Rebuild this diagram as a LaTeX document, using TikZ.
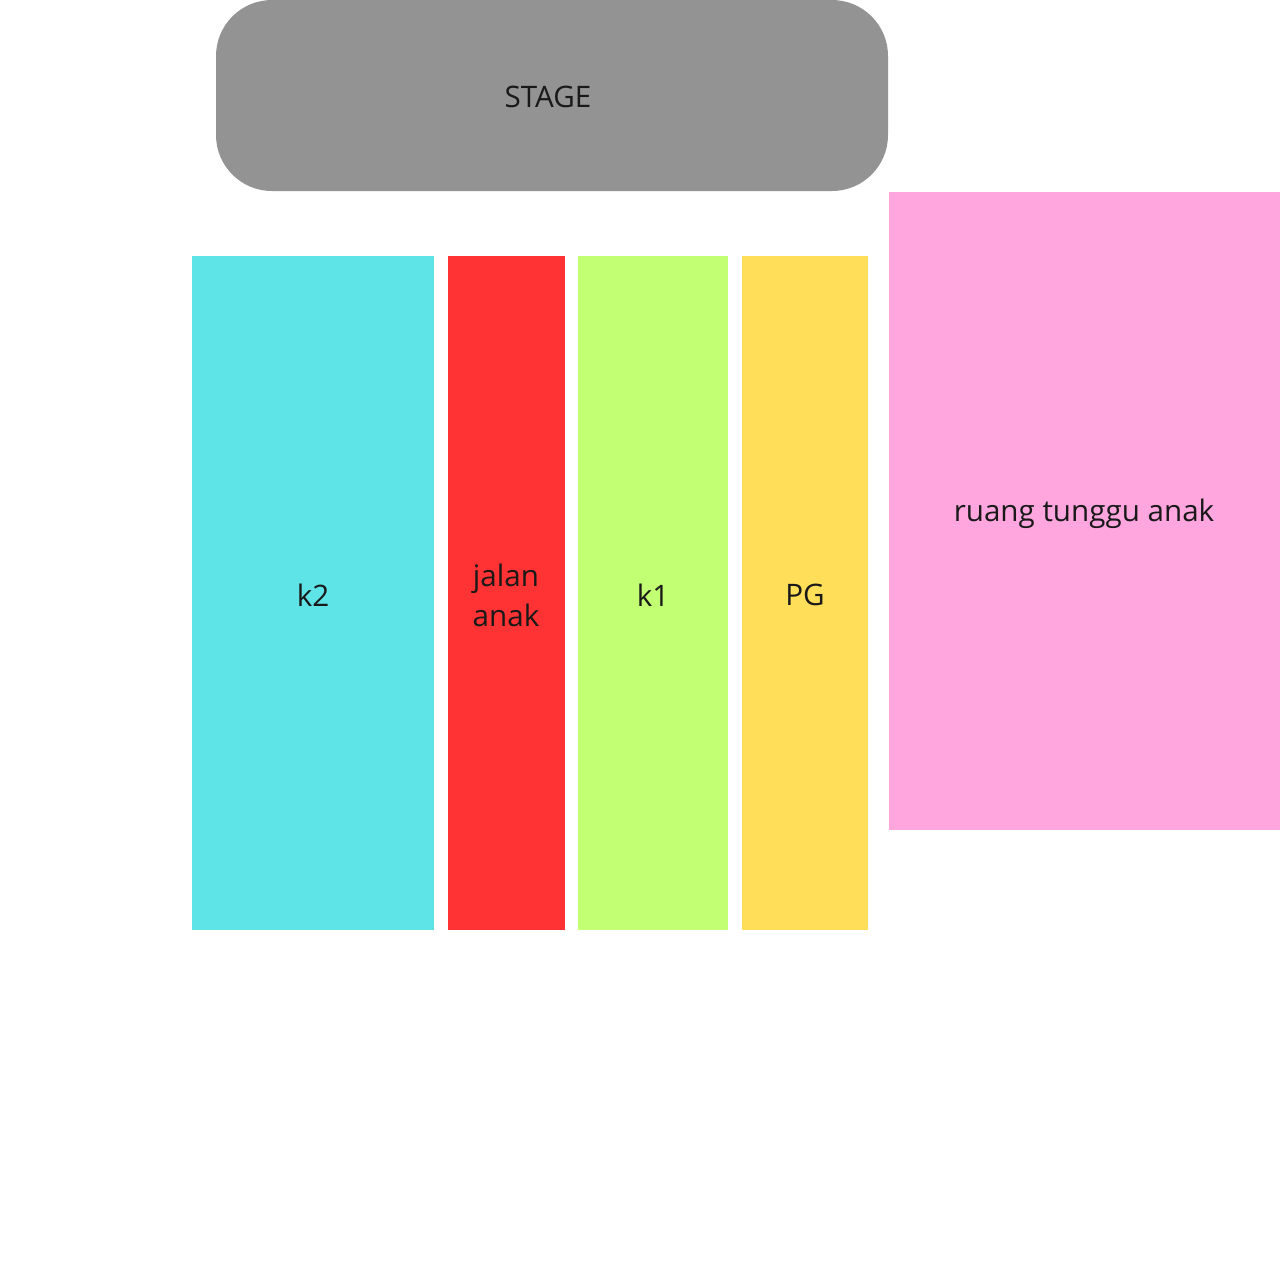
\documentclass[tikz,border=0pt]{standalone}
\usepackage{fontspec}
\setmainfont{Open Sans}
\definecolor{stagegray}{RGB}{147,147,147}
\definecolor{cyanarea}{RGB}{94,227,230}
\definecolor{redarea}{RGB}{255,51,51}
\definecolor{greenarea}{RGB}{194,255,115}
\definecolor{yellowarea}{RGB}{255,222,89}
\definecolor{pinkarea}{RGB}{255,166,222}
\begin{document}
\begin{tikzpicture}[x=1pt,y=-1pt,
  area/.style={draw=none,inner sep=0pt,font=\fontsize{29.6}{40}\selectfont,text=black!90,align=center}]
\useasboundingbox[fill=white] (0,0) rectangle (1280,1280);
\fill[stagegray,rounded corners=56pt] (216,0) rectangle (888,191);
\node[area] (stage) at (548,97) {STAGE};
\fill[cyanarea] (192,256) rectangle (434,930);
\node[area] (k2) at (313,595) {k2};
\fill[redarea] (448,256) rectangle (565,930);
\node[area] (jalan) at (506,595) {jalan\\anak};
\fill[greenarea] (578,256) rectangle (728,930);
\node[area] (k1) at (653,595) {k1};
\fill[yellowarea] (742,256) rectangle (868,930);
\node[area] (pg) at (805,595) {PG};
\fill[pinkarea] (889,192) rectangle (1280,830);
\node[area] (ruang) at (1084,514) {ruang tunggu anak};
\end{tikzpicture}
\end{document}
